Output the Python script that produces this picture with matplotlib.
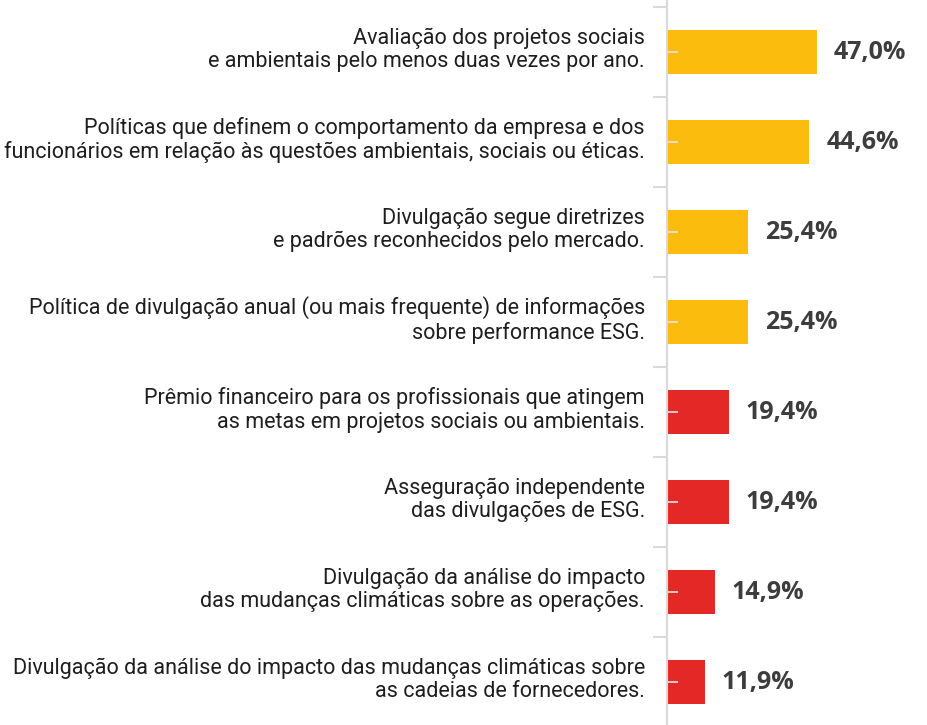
import matplotlib
matplotlib.use("Agg")
import matplotlib.pyplot as plt
from matplotlib.ticker import FixedLocator

labels = [
    "Avaliação dos projetos sociais\ne ambientais pelo menos duas vezes por ano.",
    "Políticas que definem o comportamento da empresa e dos\nfuncionários em relação às questões ambientais, sociais ou éticas.",
    "Divulgação segue diretrizes\ne padrões reconhecidos pelo mercado.",
    "Política de divulgação anual (ou mais frequente) de informações\nsobre performance ESG.",
    "Prêmio financeiro para os profissionais que atingem\nas metas em projetos sociais ou ambientais.",
    "Asseguração independente\ndas divulgações de ESG.",
    "Divulgação da análise do impacto\ndas mudanças climáticas sobre as operações.",
    "Divulgação da análise do impacto das mudanças climáticas sobre\nas cadeias de fornecedores.",
]
values = [47.0, 44.6, 25.4, 25.4, 19.4, 19.4, 14.9, 11.9]
value_text = ["47,0%", "44,6%", "25,4%", "25,4%", "19,4%", "19,4%", "14,9%", "11,9%"]
colors = ["#FBBC0E"] * 4 + ["#E42825"] * 4

W, H = 928, 725
fig = plt.figure(figsize=(W / 100, H / 100), dpi=100)
ax_left = 667 / W
ax = fig.add_axes([ax_left, 0, 1 - ax_left, 1])

n = len(values)
ys = list(range(n))
ax.barh(ys, values, height=0.49, color=colors, zorder=1)

ax.set_xlim(0, 261 / (150 / 47.0))
ax.set_ylim((725 - 52) / 90, -52 / 90)

for s in ["top", "right", "bottom"]:
    ax.spines[s].set_visible(False)
ax.spines["left"].set_color("#d9d9d9")
ax.spines["left"].set_linewidth(1.5)
ax.set_xticks([])

ax.yaxis.set_major_locator(FixedLocator([i - 0.5 for i in range(n + 1)]))
ax.yaxis.set_minor_locator(FixedLocator(ys))
ax.tick_params(axis="y", which="major", direction="out", length=10, width=1.5,
               color="#d9d9d9", labelleft=False)
ax.tick_params(axis="y", which="minor", direction="in", length=8, width=1.2,
               color="#e6e6e6", labelleft=False)

label_font = ["Roboto", "DejaVu Sans"]
for y, lab in zip(ys, labels):
    fig.text(645 / W, 1 - (52 + 90 * y - 2) / H, lab, ha="right", va="center",
             fontsize=15.5, family=label_font, color="#1e1e1e", linespacing=1.15)

for y, v, t in zip(ys, values, value_text):
    ax.annotate(t, (v, y), xytext=(17, 0), textcoords="offset pixels",
                ha="left", va="center", fontsize=18, fontweight="bold",
                family=["Open Sans", "DejaVu Sans"], color="#3d3d3d")

fig.savefig("out.png", dpi=100)
